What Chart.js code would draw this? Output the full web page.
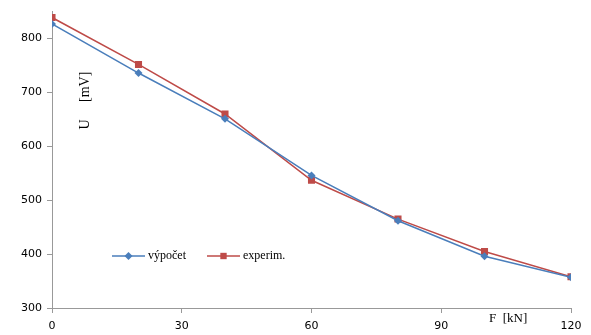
<!DOCTYPE html>
<html>
<head>
<meta charset="utf-8">
<script src="https://cdn.jsdelivr.net/npm/chart.js@4/dist/chart.umd.min.js"></script>
<style>
  html, body { margin: 0; padding: 0; background: #fff; }
  #wrap { width: 591px; height: 335px; }
</style>
</head>
<body>
<div id="wrap"><canvas id="chart-u-f"></canvas></div>
<script>
// force F [kN]
const forces = [0, 20, 40, 60, 80, 100, 120];
// U [mV]
const vypocet = [827, 736, 651, 546, 462, 396, 357];
const experim = [839, 752, 660, 537, 465, 405, 358];
const xTicks = [0, 30, 60, 90, 120];
const yTicks = [300, 400, 500, 600, 700, 800];

const blue = '#4a7ebb';
const red = '#be4b48';

// legend + axis titles drawn inside the plot area like in the excel original
const annotations = {
  id: 'annotations',
  afterDatasetsDraw(chart) {
    const ctx = chart.ctx;
    const a = chart.chartArea;
    ctx.save();
    ctx.fillStyle = '#000';
    ctx.font = '12px "Liberation Serif"';
    ctx.textBaseline = 'middle';

    // legend
    const ly = a.bottom - 52;
    const items = [
      { x: a.left + 60, label: 'výpočet', color: blue, shape: 'rectRot', r: 4 },
      { x: a.left + 155, label: 'experim.', color: red, shape: 'rect', r: 4.5 }
    ];
    items.forEach(it => {
      ctx.strokeStyle = it.color;
      ctx.lineWidth = 1.5;
      ctx.beginPath();
      ctx.moveTo(it.x, ly);
      ctx.lineTo(it.x + 33, ly);
      ctx.stroke();
      ctx.fillStyle = it.color;
      Chart.helpers.drawPoint(ctx, { pointStyle: it.shape, radius: it.r, borderWidth: 0 }, it.x + 16.5, ly);
      ctx.fillStyle = '#000';
      ctx.textAlign = 'left';
      ctx.fillText(it.label, it.x + 36, ly);
    });

    // y title, rotated
    ctx.save();
    ctx.translate(a.left + 33, a.top + 89);
    ctx.rotate(-Math.PI / 2);
    ctx.textAlign = 'center';
    ctx.font = '14px "Liberation Serif"';
    ctx.fillText('U     [mV]', 0, 0);
    ctx.restore();

    // x title
    ctx.font = '13px "Liberation Serif"';
    ctx.textAlign = 'left';
    ctx.fillText('F  [kN]', a.left + 437, a.bottom + 11);
    ctx.restore();
  }
};

const ctx_chart = document.getElementById('chart-u-f');
new Chart(ctx_chart, {
  type: 'line',
  data: {
    labels: forces,
    datasets: [
      {
        label: 'výpočet',
        data: forces.map((f, i) => ({ x: f, y: vypocet[i] })),
        borderColor: blue,
        backgroundColor: blue,
        borderWidth: 1.5,
        pointStyle: 'rectRot',
        pointRadius: 4,
        pointBorderWidth: 0,
        tension: 0,
        fill: false
      },
      {
        label: 'experim.',
        data: forces.map((f, i) => ({ x: f, y: experim[i] })),
        borderColor: red,
        backgroundColor: red,
        borderWidth: 1.5,
        pointStyle: 'rect',
        pointRadius: 5,
        pointBorderWidth: 0,
        tension: 0,
        fill: false
      }
    ]
  },
  options: {
    responsive: true,
    maintainAspectRatio: false,
    animation: false,
    layout: { padding: { top: 9, right: 20, left: 0, bottom: 0 } },
    plugins: {
      legend: { display: false },
      tooltip: { enabled: false }
    },
    scales: {
      x: {
        type: 'linear',
        min: 0,
        max: 120,
        afterBuildTicks: axis => { axis.ticks = xTicks.map(v => ({ value: v })); },
        afterFit: axis => { axis.height = 27; },
        grid: { drawOnChartArea: false, drawTicks: true, tickLength: 5, color: '#999' },
        border: { color: '#999', width: 1 },
        ticks: { color: '#000', font: { family: 'DejaVu Sans', size: 11 }, padding: 7, maxRotation: 0 }
      },
      y: {
        min: 300,
        max: 850,
        afterBuildTicks: axis => { axis.ticks = yTicks.map(v => ({ value: v })); },
        afterFit: axis => { axis.width = 52; },
        grid: { drawOnChartArea: false, drawTicks: true, tickLength: 5, color: '#999' },
        border: { color: '#999', width: 1 },
        ticks: { color: '#000', font: { family: 'DejaVu Sans', size: 11 }, padding: 5 }
      }
    }
  },
  plugins: [annotations]
});
</script>
</body>
</html>
